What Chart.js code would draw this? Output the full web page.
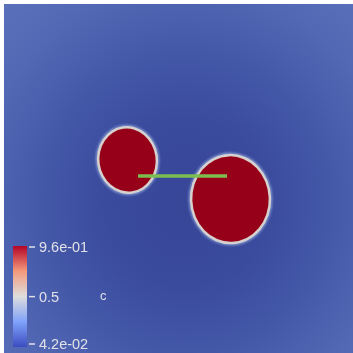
<!DOCTYPE html>
<html><head><meta charset="utf-8">
<script src="https://cdn.jsdelivr.net/npm/chart.js@4/dist/chart.umd.min.js"></script>
<style>html,body{margin:0;padding:0;background:#fff;}#wrap{width:353px;height:353px;}</style>
</head><body><div id="wrap"><canvas id="c"></canvas></div>
<script>
// Droplets (field c ≈ 1 inside), in domain units [0,1]
const dropX = [0.354, 0.649];
const dropY = [0.553, 0.441];
const dropRx = [0.087, 0.116];
const dropRy = [0.097, 0.129];
const dropTilt = [-8, -2];
// Connecting segment
const segX = [0.384, 0.639];
const segY = [0.507, 0.507];
// Colour bar
const cMin = 0.042, cMax = 0.96;
const tickValues = [0.96, 0.5, 0.042];
const tickLabels = ['9.6e-01', '0.5', '4.2e-02'];
const fieldName = 'c';

const coolWarm = [[0,[59,76,192]],[0.25,[128,162,250]],[0.5,[221,221,221]],[0.75,[244,154,123]],[1,[180,4,38]]];
function cw(t){for(let i=1;i<coolWarm.length;i++){if(t<=coolWarm[i][0]){const a=coolWarm[i-1],b=coolWarm[i];const f=(t-a[0])/(b[0]-a[0]);return a[1].map((v,k)=>Math.round(v+(b[1][k]-v)*f));}}return coolWarm[coolWarm.length-1][1];}

const fieldPlugin = {
  id:'field',
  beforeDatasetsDraw(chart){
    const {ctx, chartArea:a, scales:{x,y}} = chart;
    ctx.save();
    ctx.beginPath();ctx.rect(a.left,a.top,a.right-a.left,a.bottom-a.top);ctx.clip();
    const cx=x.getPixelForValue(0.52), cy=y.getPixelForValue(0.43);
    ctx.translate(cx,cy);ctx.scale(1.0,1.05);
    const g=ctx.createRadialGradient(0,0,0,0,0,260);
    g.addColorStop(0,'rgb(56,70,152)');
    g.addColorStop(0.3,'rgb(58,74,156)');
    g.addColorStop(0.55,'rgb(68,88,168)');
    g.addColorStop(0.8,'rgb(82,104,180)');
    g.addColorStop(1,'rgb(90,112,186)');
    ctx.fillStyle=g;ctx.fillRect(-400,-400,800,800);
    ctx.setTransform(1,0,0,1,0,0);
    for(let i=0;i<dropX.length;i++){
      const px=x.getPixelForValue(dropX[i]), py=y.getPixelForValue(dropY[i]);
      const rx=Math.abs(x.getPixelForValue(dropX[i]+dropRx[i])-px);
      const ry=Math.abs(y.getPixelForValue(dropY[i]+dropRy[i])-py);
      const rot=dropTilt[i]*Math.PI/180;
      ctx.filter='blur(1px)';
      ctx.fillStyle='rgb(125,145,205)';
      ctx.beginPath();ctx.ellipse(px,py,rx+1.5,ry+1.5,rot,0,Math.PI*2);ctx.fill();
      ctx.filter='blur(0.7px)';
      ctx.fillStyle='rgb(214,208,206)';
      ctx.beginPath();ctx.ellipse(px,py,rx+0.2,ry+0.2,rot,0,Math.PI*2);ctx.fill();
      ctx.fillStyle='rgb(150,0,24)';
      ctx.beginPath();ctx.ellipse(px,py,rx-2.3,ry-2.3,rot,0,Math.PI*2);ctx.fill();
      ctx.filter='none';
    }
    ctx.restore();
  },
  afterDatasetsDraw(chart){
    const {ctx} = chart;
    ctx.save();
    const bx=13,bw=14,top=246,bot=347;
    const vy=v=>bot-(v-cMin)/(cMax-cMin)*(bot-top);
    const g=ctx.createLinearGradient(0,bot,0,top);
    for(let s=0;s<=20;s++){const t=s/20;const c=cw(t);g.addColorStop(t,`rgb(${c[0]},${c[1]},${c[2]})`);}
    ctx.fillStyle=g;ctx.fillRect(bx,top,bw,bot-top);
    ctx.strokeStyle='rgb(225,225,232)';ctx.lineWidth=1.5;
    ctx.fillStyle='rgb(225,225,232)';
    ctx.font='14.5px "Liberation Sans", Arial, sans-serif';
    ctx.textBaseline='middle';ctx.textAlign='left';
    tickValues.forEach((v,i)=>{
      let yy=vy(v); yy=Math.min(Math.max(yy,top+1),bot-3);
      ctx.beginPath();ctx.moveTo(bx+bw+2,yy);ctx.lineTo(bx+bw+8,yy);ctx.stroke();
      ctx.fillText(tickLabels[i],bx+bw+12,yy+1);
    });
    ctx.font='13px "Liberation Sans", Arial, sans-serif';
    ctx.fillText(fieldName,100,vy(0.5));
    ctx.restore();
  }
};

new Chart(document.getElementById('c'),{
  type:'scatter',
  data:{datasets:[{
    data: segX.map((v,i)=>({x:v,y:segY[i]})),
    showLine:true, borderColor:'rgb(124,190,80)', borderWidth:3.5, pointRadius:0, borderCapStyle:'butt'
  }]},
  options:{
    responsive:true, maintainAspectRatio:false, animation:false,
    layout:{padding:{left:4,top:4,right:0,bottom:0}},
    plugins:{legend:{display:false},tooltip:{enabled:false}},
    scales:{x:{display:false,min:0,max:1},y:{display:false,min:0,max:1}}
  },
  plugins:[fieldPlugin]
});
</script></body></html>
